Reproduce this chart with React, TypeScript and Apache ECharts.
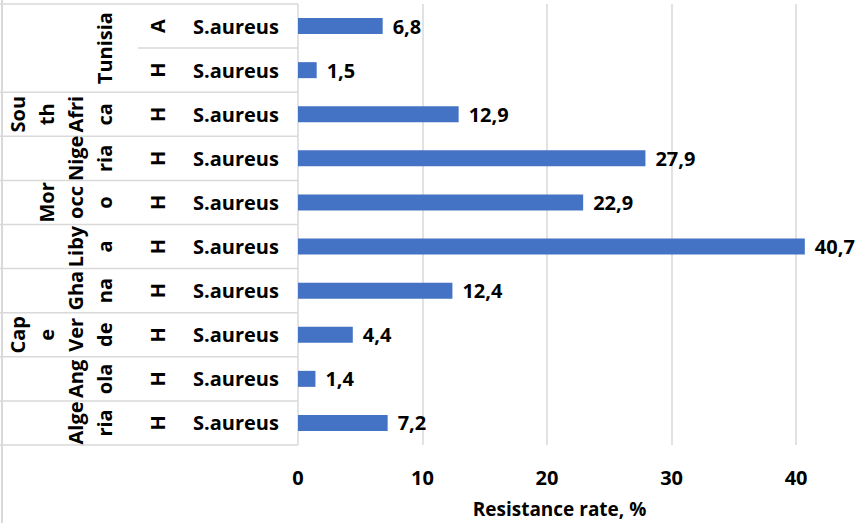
import React, { useEffect, useRef } from 'react';
import * as echarts from 'echarts';

// Rows, top to bottom
const countries = ['Tunisia', 'Tunisia', 'South Africa', 'Nigeria', 'Morocco', 'Libya', 'Ghana', 'Cape Verde', 'Angola', 'Algeria'];
const countryWrapped: Record<string, string> = {
  'Tunisia': 'Tunisia',
  'South Africa': 'Sou\nth\nAfri\nca',
  'Nigeria': 'Nige\nria',
  'Morocco': 'Mor\nocc\no',
  'Libya': 'Liby\na',
  'Ghana': 'Gha\nna',
  'Cape Verde': 'Cap\ne\nVer\nde',
  'Angola': 'Ang\nola',
  'Algeria': 'Alge\nria',
};
const types = ['A', 'H', 'H', 'H', 'H', 'H', 'H', 'H', 'H', 'H'];
const organisms = ['S.aureus', 'S.aureus', 'S.aureus', 'S.aureus', 'S.aureus', 'S.aureus', 'S.aureus', 'S.aureus', 'S.aureus', 'S.aureus'];
const values = [6.8, 1.5, 12.9, 27.9, 22.9, 40.7, 12.4, 4.4, 1.4, 7.2];
const xMin = 0;
const xMax = 42;
const xInterval = 10;
const xName = 'Resistance rate, %';

const FONT = '"Open Sans", "Liberation Sans", sans-serif';
const GRID_COLOR = '#d9d9d9';

export default function App() {
  const ref = useRef<HTMLDivElement>(null);
  useEffect(() => {
    const chart = echarts.init(ref.current!, null, { renderer: 'svg' });
    const rowIds = values.map((_, i) => String(i));
    const option: any = {
      animation: false,
      backgroundColor: '#ffffff',
      grid: { left: 298, top: 4, bottom: 75.5, width: 523, containLabel: false },
      xAxis: {
        type: 'value',
        min: xMin,
        max: xMax,
        interval: xInterval,
        axisLine: { show: false },
        axisTick: { show: false },
        splitLine: { show: true, showMaxLine: false, lineStyle: { color: GRID_COLOR, width: 1.5 } },
        axisLabel: {
          showMaxLabel: false,
          margin: 22,
          fontFamily: FONT,
          fontWeight: 'bold',
          fontSize: 20,
          color: '#000',
        },
        name: xName,
        nameLocation: 'middle',
        nameGap: 54,
        nameTextStyle: { fontFamily: FONT, fontWeight: 'bold', fontSize: 19, color: '#000' },
      },
      yAxis: {
        type: 'category',
        inverse: true,
        data: rowIds,
        axisLine: { show: false },
        axisTick: { show: false },
        splitLine: { show: false },
        axisLabel: {
          formatter: (_v: string, i: number) => organisms[i],
          align: 'left',
          margin: 105,
          fontFamily: FONT,
          fontWeight: 'bold',
          fontSize: 20,
          color: '#000',
        },
      },
      series: [
        {
          type: 'bar',
          data: values,
          barWidth: 16,
          itemStyle: { color: '#4472C4' },
          label: {
            show: true,
            position: 'right',
            distance: 10,
            formatter: (p: any) => Number(p.value).toFixed(1).replace('.', ','),
            fontFamily: FONT,
            fontWeight: 'bold',
            fontSize: 20,
            color: '#000',
          },
        },
      ],
    };
    chart.setOption(option);

    // Table decorations derived from the category axis
    const yc = rowIds.map((id) => chart.convertToPixel({ yAxisIndex: 0 }, id) as number);
    const band = yc.length > 1 ? yc[1] - yc[0] : 44;
    const x0 = chart.convertToPixel({ xAxisIndex: 0 }, xMin) as number;
    const elements: any[] = [];
    const lineStyle = { stroke: GRID_COLOR, lineWidth: 1.5 };

    // outer left border
    elements.push({ type: 'line', shape: { x1: 2, y1: 0, x2: 2, y2: 523 }, style: { stroke: GRID_COLOR, lineWidth: 2 } });

    for (let b = 0; b <= values.length; b++) {
      const y = b < values.length ? yc[b] - band / 2 : yc[values.length - 1] + band / 2;
      const inside = b > 0 && b < values.length && countries[b] === countries[b - 1];
      elements.push({
        type: 'line',
        shape: { x1: inside ? 138 : 0, y1: y, x2: x0, y2: y },
        style: lineStyle,
      });
    }

    // type column (H / A)
    types.forEach((t, i) => {
      elements.push({
        type: 'text',
        x: 157,
        y: yc[i],
        rotation: Math.PI / 2,
        style: {
          text: t,
          font: `bold 20px ${FONT}`,
          fill: '#000',
          textAlign: 'center',
          textVerticalAlign: 'middle',
        },
      });
    });

    // country column, grouped
    let start = 0;
    for (let i = 1; i <= countries.length; i++) {
      if (i === countries.length || countries[i] !== countries[start]) {
        const cy = (yc[start] + yc[i - 1]) / 2;
        elements.push({
          type: 'text',
          x: 104 + 14.5,
          y: cy,
          rotation: Math.PI / 2,
          style: {
            text: countryWrapped[countries[start]],
            font: `bold 20px ${FONT}`,
            fill: '#000',
            textAlign: 'center',
            textVerticalAlign: 'bottom',
            lineHeight: 29,
          },
        });
        start = i;
      }
    }

    chart.setOption({ graphic: { elements } });
    return () => chart.dispose();
  }, []);
  return <div ref={ref} style={{ position: 'fixed', left: 0, top: 0, width: 858, height: 523 }} />;
}
